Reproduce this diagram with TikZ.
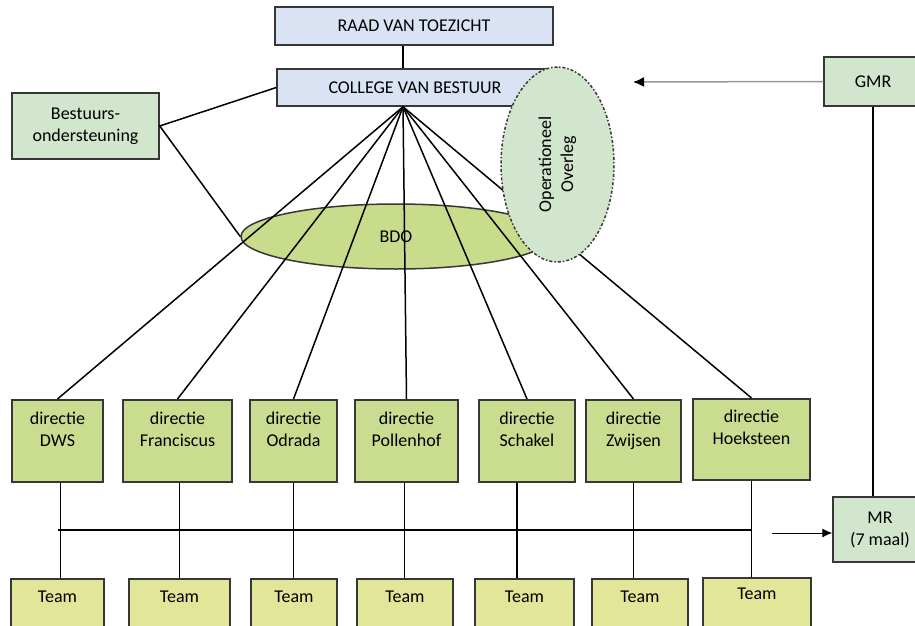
\documentclass[tikz,border=0pt]{standalone}
\usepackage{fontspec}
\setmainfont{Carlito}
\usepackage{xcolor}
\usetikzlibrary{arrows.meta,shapes.geometric,positioning}
\definecolor{boardblue}{RGB}{218,227,243}
\definecolor{staffgreen}{RGB}{210,230,206}
\definecolor{dirgreen}{RGB}{201,220,143}
\definecolor{teamyellow}{RGB}{226,230,152}
\definecolor{bdogreen}{RGB}{200,220,140}
\definecolor{edgegray}{RGB}{55,55,55}

\begin{document}
\begin{tikzpicture}[x=1pt, y=-1pt, line width=1.5pt,
    every node/.style={font=\fontsize{18}{22}\selectfont},
    box/.style={draw=edgegray, rectangle, inner sep=0pt, align=center},
    boardbox/.style={box, fill=boardblue},
    staffbox/.style={box, fill=staffgreen},
    dirbox/.style={box, fill=dirgreen, minimum height=82pt, anchor=north},
    teambox/.style={box, fill=teamyellow, minimum height=70pt, anchor=north},
    toptext/.style={inner sep=0pt, align=center}]
    \useasboundingbox (0,0) rectangle (915,626);
    \clip (0,0) rectangle (915,626);

    % Bestuur
    \node[boardbox, minimum width=278pt, minimum height=38pt] (rvt) at (414,26) {RAAD VAN TOEZICHT};
    \node[boardbox, minimum width=276pt, minimum height=37pt] (cvb) at (415,87.5) {COLLEGE VAN BESTUUR};
    \node[staffbox, minimum width=147pt, minimum height=66pt] (bo) at (85.5,126) {Bestuurs-\\ondersteuning};
    \coordinate (fan) at ([xshift=-12pt]cvb.south);
    \draw (rvt.south -| fan) -- (cvb.north -| fan);

    % BDO
    \node[ellipse, draw=edgegray, fill=bdogreen, minimum width=310pt, minimum height=65pt, inner sep=0pt] (bdo) at (396,236.5) {BDO};
    \draw (cvb.west) -- (bo.east) -- (bdo.west);

    % Directies
    \node[dirbox, minimum width=91pt] (dws) at (57.5,399) {};
    \node[dirbox, minimum width=109pt] (franciscus) at (177.5,399) {};
    \node[dirbox, minimum width=87pt] (odrada) at (293.5,399) {};
    \node[dirbox, minimum width=103pt] (pollenhof) at (406.5,399) {};
    \node[dirbox, minimum width=96pt] (schakel) at (527,399) {};
    \node[dirbox, minimum width=95pt] (zwijsen) at (633.5,399) {};
    \node[dirbox, minimum width=117pt, minimum height=81pt] (hoeksteen) at (751.5,398) {};
    \node[toptext, below=12pt of dws.north] (dwstext) {directie\\DWS};
    \node[toptext, below=12pt of franciscus.north] (franciscustext) {directie\\Franciscus};
    \node[toptext, below=12pt of odrada.north] (odradatext) {directie\\Odrada};
    \node[toptext, below=12pt of pollenhof.north] (pollenhoftext) {directie\\Pollenhof};
    \node[toptext, below=12pt of schakel.north] (schakeltext) {directie\\Schakel};
    \node[toptext, below=12pt of zwijsen.north] (zwijsentext) {directie\\Zwijsen};
    \node[toptext, below=11pt of hoeksteen.north] (hoeksteentext) {directie\\Hoeksteen};

    % Teams
    \node[teambox, minimum width=93pt] (dwsteam) at (57.5,578) {};
    \node[teambox, minimum width=101pt] (franciscusteam) at (179.5,578) {};
    \node[teambox, minimum width=86pt] (odradateam) at (294,578) {};
    \node[teambox, minimum width=96pt] (pollenhofteam) at (405,578) {};
    \node[teambox, minimum width=99pt] (schakelteam) at (524.5,578) {};
    \node[teambox, minimum width=96pt] (zwijsenteam) at (640,578) {};
    \node[teambox, minimum width=108pt] (hoeksteenteam) at (757,577) {};
    \node[toptext, below=12pt of dwsteam.north] (dwsteamtext) {Team};
    \node[toptext, below=12pt of franciscusteam.north] (franciscusteamtext) {Team};
    \node[toptext, below=12pt of odradateam.north] (odradateamtext) {Team};
    \node[toptext, below=12pt of pollenhofteam.north] (pollenhofteamtext) {Team};
    \node[toptext, below=12pt of schakelteam.north] (schakelteamtext) {Team};
    \node[toptext, below=12pt of zwijsenteam.north] (zwijsenteamtext) {Team};
    \node[toptext, below=10pt of hoeksteenteam.north] (hoeksteenteamtext) {Team};

    % lijnen van CvB naar directies
    \draw (fan) -- (dws.north);
    \draw (fan) -- (franciscus.north);
    \draw (fan) -- (odrada.north);
    \draw (fan) -- (pollenhof.north);
    \draw (fan) -- (schakel.north);
    \draw (fan) -- (zwijsen.north);
    \draw (fan) -- (hoeksteen.north);

    % directie naar team
    \draw ([xshift=3pt]dws.south) -- ([xshift=3pt]dws.south |- dwsteam.north);
    \draw ([xshift=2pt]franciscus.south) -- ([xshift=2pt]franciscus.south |- franciscusteam.north);
    \draw (odrada.south) -- (odrada.south |- odradateam.north);
    \draw ([xshift=-2pt]pollenhof.south) -- ([xshift=-2pt]pollenhof.south |- pollenhofteam.north);
    \draw ([xshift=-10pt]schakel.south) -- ([xshift=-10pt]schakel.south |- schakelteam.north);
    \draw (zwijsen.south) -- (zwijsen.south |- zwijsenteam.north);
    \draw (hoeksteen.south) -- (hoeksteen.south |- hoeksteenteam.north);
    \coordinate (busstart) at (58,530);
    \draw (busstart) -- (busstart -| hoeksteen.south);

    % Operationeel Overleg
    \node[ellipse, draw=edgegray, dash dot, fill=staffgreen, rotate=90, minimum width=195pt, minimum height=113pt, inner sep=0pt, align=center] (oo) at (557.5,164.5) {Operationeel\\Overleg};

    % Medezeggenschap
    \node[staffbox, minimum width=98pt, minimum height=49pt] (gmr) at (873,81.5) {GMR};
    \node[staffbox, minimum width=94pt, minimum height=65pt] (mr) at (880,529.5) {MR\\(7 maal)};
    \coordinate (gmrtip) at (633,82);
    \draw[gray!80, -{Latex[black, length=11pt, width=10pt]}] (gmr.west) -- (gmrtip);
    \draw (gmr.south) -- (gmr.south |- mr.north);
    \coordinate (mrtail) at (772,533);
    \draw[line width=1pt, -{Latex[length=10pt, width=9pt]}] (mrtail) -- (mrtail -| mr.west);
\end{tikzpicture}
\end{document}
